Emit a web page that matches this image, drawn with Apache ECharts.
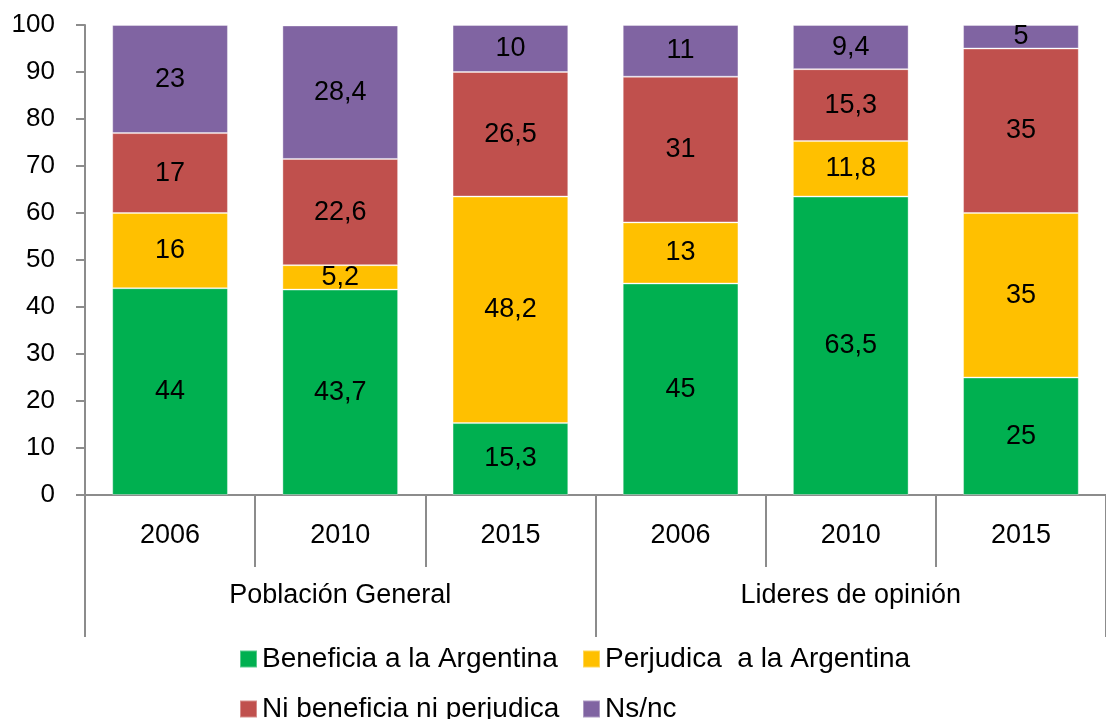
<!DOCTYPE html>
<html style="height: 100%">
<head>
<meta charset="utf-8" />
<title>Beneficia / Perjudica</title>
<script type="text/javascript" src="https://cdn.jsdelivr.net/npm/echarts@6/dist/echarts.min.js"></script>
</head>
<body style="height: 100%; margin: 0; background: #fff;">
<div id="container" style="width: 1106px; height: 719px;"></div>
<script type="text/javascript">
var years = ['2006', '2010', '2015', '2006', '2010', '2015'];
var groups = ['Población General', 'Lideres de opinión'];
var beneficia = [44, 43.7, 15.3, 45, 63.5, 25];
var perjudica = [16, 5.2, 48.2, 13, 11.8, 35];
var niNi = [17, 22.6, 26.5, 31, 15.3, 35];
var nsnc = [23, 28.4, 10, 11, 9.4, 5];
var seriesNames = ['Beneficia a la Argentina', 'Perjudica  a la Argentina', 'Ni beneficia ni perjudica', 'Ns/nc'];
var colors = ['#00B050', '#FFC000', '#C0504D', '#8064A2'];

var font = 'Liberation Sans, Arial, sans-serif';
var axisGray = '#8c8c8c';

function makeBar(name, data, color) {
    return {
        name: name,
        type: 'bar',
        stack: 'total',
        data: data,
        barCategoryGap: '32%',
        itemStyle: { color: color, borderColor: 'rgba(255,255,255,0.35)', borderWidth: 1 },
        label: {
            show: true,
            position: 'inside',
            color: '#000',
            fontFamily: font,
            fontSize: 27,
            formatter: function (p) { return String(p.value).replace('.', ','); }
        }
    };
}

// one legend per item so the two columns line up like the original
function makeLegend(name, left, top) {
    return {
        left: left, top: top, itemWidth: 17, itemHeight: 17,
        icon: 'rect',
        data: [name],
        textStyle: { fontFamily: font, fontSize: 28, color: '#000' }
    };
}

var myChart = echarts.init(document.getElementById('container'));
var option = {
    animation: false,
    color: colors,
    grid: { left: 85, top: 25, width: 1032, height: 470, containLabel: false },
    legend: [
        makeLegend(seriesNames[0], 234, 640),
        makeLegend(seriesNames[1], 577, 640),
        makeLegend(seriesNames[2], 234, 690),
        makeLegend(seriesNames[3], 577, 690)
    ],
    xAxis: [
        {
            type: 'category',
            data: years,
            axisLine: { lineStyle: { color: axisGray, width: 2 } },
            axisTick: { show: true, length: 72, interval: 0, lineStyle: { color: axisGray, width: 2 } },
            axisLabel: { interval: 0, margin: 27, color: '#000', fontFamily: font, fontSize: 27 }
        },
        {
            type: 'category',
            position: 'bottom',
            data: groups,
            axisLine: { show: false },
            axisTick: { show: true, length: 142, interval: 0, lineStyle: { color: axisGray, width: 2 } },
            axisLabel: { interval: 0, margin: 87, color: '#000', fontFamily: font, fontSize: 27 }
        }
    ],
    yAxis: {
        type: 'value',
        min: 0,
        max: 100,
        interval: 10,
        splitLine: { show: false },
        axisLine: { show: true, lineStyle: { color: axisGray, width: 2 } },
        axisTick: { show: true, length: 9, lineStyle: { color: axisGray, width: 2 } },
        axisLabel: { margin: 30, color: '#000', fontFamily: font, fontSize: 26 }
    },
    series: [
        makeBar(seriesNames[0], beneficia, colors[0]),
        makeBar(seriesNames[1], perjudica, colors[1]),
        makeBar(seriesNames[2], niNi, colors[2]),
        makeBar(seriesNames[3], nsnc, colors[3])
    ]
};
myChart.setOption(option);
</script>
</body>
</html>
